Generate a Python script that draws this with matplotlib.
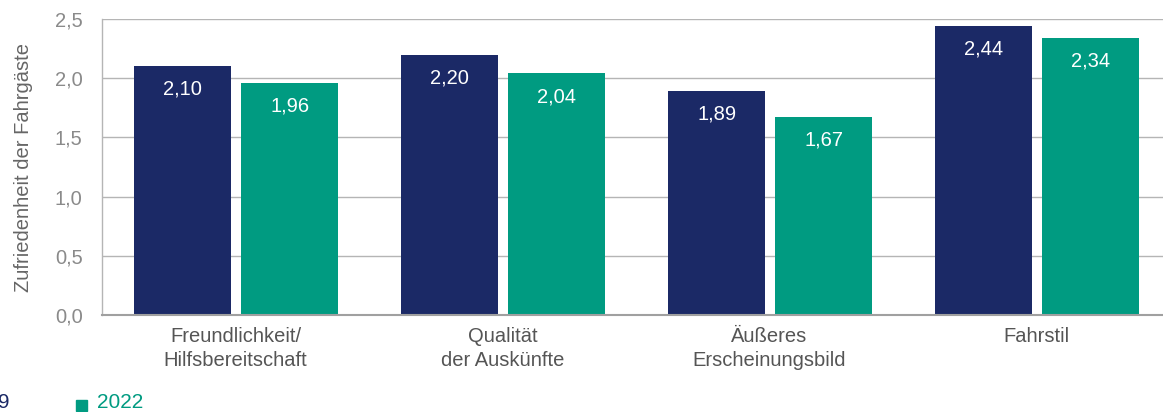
import numpy as np
import matplotlib.pyplot as plt
from matplotlib.patches import Rectangle
from matplotlib.ticker import FuncFormatter

# Daten
kategorien = ["Freundlichkeit/\nHilfsbereitschaft", "Qualität\nder Auskünfte",
              "Äußeres\nErscheinungsbild", "Fahrstil"]
werte_2019 = [2.10, 2.20, 1.89, 2.44]
werte_2022 = [1.96, 2.04, 1.67, 2.34]
jahre = ["2019", "2022"]

FARBE_2019 = "#1b2966"
FARBE_2022 = "#009b81"

plt.rcParams['font.family'] = ['Liberation Sans', 'DejaVu Sans']

W, H = 1163, 412
fig = plt.figure(figsize=(W / 100, H / 100), dpi=100)
# Achse reicht rechts etwas über den Bildrand hinaus
ax = fig.add_axes([102 / W, 97 / H, 1068 / W, 296 / H])

x = np.arange(len(kategorien))
breite = 0.363
versatz = 0.2

balken1 = ax.bar(x - versatz + 0.003, werte_2019, breite, color=FARBE_2019, zorder=3)
balken2 = ax.bar(x + versatz + 0.003, werte_2022, breite, color=FARBE_2022, zorder=3)

for balken, werte in [(balken1, werte_2019), (balken2, werte_2022)]:
    for b, w in zip(balken, werte):
        ax.text(b.get_x() + b.get_width() / 2, w - 0.195, f"{w:.2f}".replace(".", ","),
                ha="center", va="center", color="white", fontsize=14.5, zorder=4)

ax.set_xlim(-0.5, 3.5)
ax.set_ylim(0, 2.5)
ax.set_yticks(np.arange(0, 2.51, 0.5))
ax.yaxis.set_major_formatter(FuncFormatter(lambda v, p: f"{v:.1f}".replace(".", ",")))
ax.set_xticks(x)
ax.set_xticklabels(kategorien, fontsize=14.5, color="#555555", linespacing=1.3)

ax.grid(axis="y", color="#b5b5b5", linewidth=1, zorder=0)
ax.tick_params(axis="y", length=0, labelsize=14.5, labelcolor="#8a8a8a", pad=14)
ax.tick_params(axis="x", length=0, pad=9)

for s in ["top", "right"]:
    ax.spines[s].set_visible(False)
ax.spines["left"].set_color("#b5b5b5")
ax.spines["left"].set_linewidth(1)
ax.spines["bottom"].set_color("#a0a0a0")
ax.spines["bottom"].set_linewidth(1.5)
ax.spines["bottom"].set_zorder(5)

ax.set_ylabel("Zufriedenheit der Fahrgäste", fontsize=14.5, color="#666666", labelpad=16)

# Legende (links abgeschnitten wie im Original)
ly = 1 - 403 / H
for x0, farbe, jahr in [(-58, FARBE_2019, jahre[0]), (76, FARBE_2022, jahre[1])]:
    fig.patches.append(Rectangle((x0 / W, 1 - 411 / H), 11 / W, 11 / H,
                                 transform=fig.transFigure, color=farbe))
    fig.text((x0 + 21) / W, ly, jahr, color=farbe, fontsize=15, va="center")

fig.savefig("out.png", dpi=100)
